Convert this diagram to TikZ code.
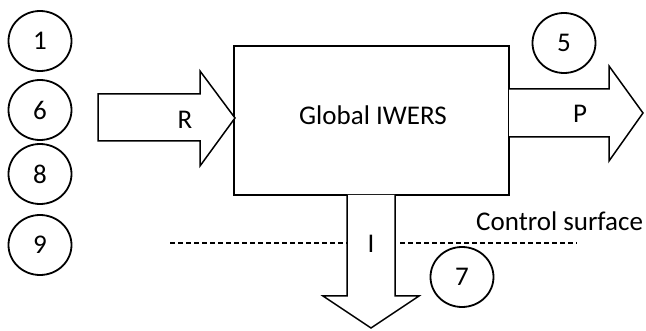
\documentclass[tikz,border=0pt]{standalone}
\usepackage{fontspec}
\setmainfont{Carlito}
\usetikzlibrary{shapes.geometric}
\begin{document}
\begin{tikzpicture}[x=1pt,y=-1pt,
  every node/.style={font=\fontsize{27}{32}\selectfont},
  tag/.style={draw,line width=1.8pt,ellipse,minimum width=63pt,minimum height=60pt,inner sep=0pt},
  flow/.style={draw,line width=1.5pt,line join=miter,fill=white},
  surface/.style={line width=1.2pt,dash pattern=on 5pt off 3pt}]
\useasboundingbox (0,0) rectangle (646,331);

% system box
\node[draw,line width=1.5pt,minimum width=275pt,minimum height=149pt,inner sep=0pt] (sys) at (371.5,120.5) {};
\node (syslbl) at (373,115) {Global IWERS};

% control surface (drawn before the outflow arrow)
\draw[surface] (170,243) -- (347,243);
\draw[surface] (400,243) -- (577,243);
\node[anchor=base west,inner sep=0pt] (cs) at (476,231) {Control surface};

% inflow R
\draw[flow] (98,94) -- (200,94) -- (200,71) -- (235,118) -- (200,166) -- (200,141) -- (98,141) -- cycle;
\node (r) at (185,120) {R};

% outflow P
\draw[flow] (509,89) -- (609,89) -- (609,66) -- (643,113) -- (609,161) -- (609,137) -- (509,137);
\node (p) at (580,114) {P};

% outflow I
\draw[flow] (347,195) -- (347,296) -- (323,296) -- (371,328) -- (419,296) -- (395,296) -- (395,195);
\node (i) at (371,244) {I};

% numbered tags
\node[tag] (t1) at (40,41) {1};
\node[tag] (t6) at (40,110) {6};
\node[tag] (t8) at (40,174) {8};
\node[tag] (t9) at (40,245) {9};
\node[tag] (t5) at (564,43) {5};
\node[tag] (t7) at (462,277) {7};
\end{tikzpicture}
\end{document}
